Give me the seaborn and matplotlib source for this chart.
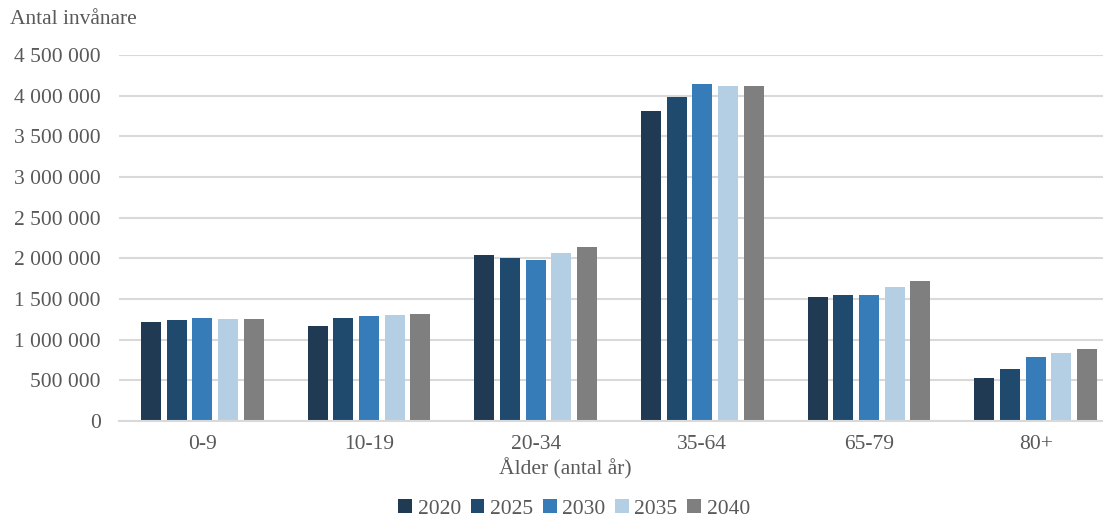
import pandas as pd
import numpy as np
import matplotlib.pyplot as plt
import seaborn as sns
from matplotlib.patches import Patch

# ── Data ─────────────────────────────────────────────────────
age_groups = ["0-9", "10-19", "20-34", "35-64", "65-79", "80+"]
years = ["2020", "2025", "2030", "2035", "2040"]

pop_2020 = [1220000, 1170000, 2040000, 3810000, 1525000, 530000]
pop_2025 = [1245000, 1270000, 2010000, 3980000, 1550000, 636000]
pop_2030 = [1270000, 1290000, 1980000, 4140000, 1555000, 785000]
pop_2035 = [1260000, 1305000, 2070000, 4125000, 1650000, 840000]
pop_2040 = [1260000, 1320000, 2140000, 4120000, 1725000, 880000]

yticks = [0, 500000, 1000000, 1500000, 2000000, 2500000,
          3000000, 3500000, 4000000, 4500000]

colors = ["#1F3A52", "#1F4A6E", "#367CB8", "#B4CFE4", "#7F7F7F"]

series = [pop_2020, pop_2025, pop_2030, pop_2035, pop_2040]
rows = []
for yr, vals in zip(years, series):
    for grp, v in zip(age_groups, vals):
        rows.append({"Ålder": grp, "År": yr, "Antal": v})
df = pd.DataFrame(rows)

# ── Plot ─────────────────────────────────────────────────────
sns.set_theme(style="white")
plt.rcParams["font.family"] = ["Liberation Serif", "DejaVu Serif"]
text_col = "#595959"
fs = 15.5

fig = plt.figure(figsize=(11.03, 5.19), dpi=100)
ax = fig.add_axes([119 / 1103, 1 - 421 / 519, 1000 / 1103, 366 / 519])

sns.barplot(data=df, x="Ålder", y="Antal", hue="År", order=age_groups,
            hue_order=years, palette=colors, width=0.768, gap=0.22,
            linewidth=0, saturation=1, ax=ax, legend=False)

ax.set_xlim(-0.5, 5.5)
ax.set_ylim(0, 4500000)
ax.set_yticks(yticks)
ax.set_yticklabels([f"{v:,.0f}".replace(",", " ") for v in yticks])
ax.yaxis.grid(True, color="#D9D9D9", linewidth=1.5)
ax.set_axisbelow(True)
for s in ["top", "right", "left"]:
    ax.spines[s].set_visible(False)
ax.spines["bottom"].set_color("#D9D9D9")
ax.spines["bottom"].set_linewidth(1.5)
ax.tick_params(axis="both", length=0, labelsize=fs, labelcolor=text_col)
ax.tick_params(axis="y", pad=13)
ax.tick_params(axis="x", pad=10)
ax.set_xlabel("")
ax.set_ylabel("")

fig.text(10 / 1103, 1 - 19 / 519, "Antal invånare", fontsize=fs,
         color=text_col, ha="left", va="center")
fig.text(565 / 1103, 1 - 469 / 519, "Ålder (antal år)", fontsize=fs,
         color=text_col, ha="center", va="center")

handles = [Patch(facecolor=c, edgecolor="none") for c in colors]
fig.legend(handles, years, loc="center", ncol=5, frameon=False,
           bbox_to_anchor=(574 / 1103, 1 - 509 / 519), fontsize=fs,
           labelcolor=text_col, handlelength=0.65, handleheight=0.65,
           handletextpad=0.25, columnspacing=0.45)

fig.savefig("out.png", dpi=100)
